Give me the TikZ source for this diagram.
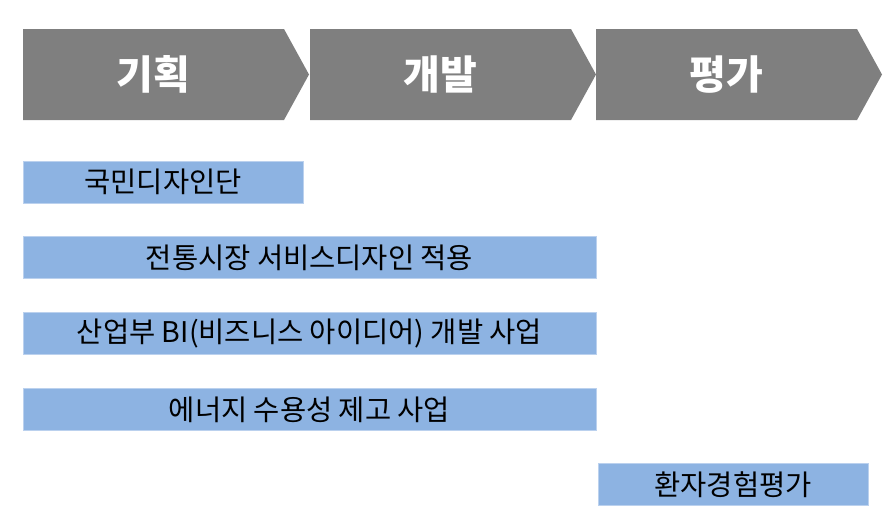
\documentclass[tikz,border=0pt]{standalone}
\usepackage{fontspec}
\newfontfamily\kr{Noto Sans CJK KR}
\usetikzlibrary{positioning}
\usetikzlibrary{calc}

\definecolor{stagegray}{HTML}{7F7F7F}
\definecolor{taskblue}{HTML}{8DB3E2}

\begin{document}
\begin{tikzpicture}[x=1pt, y=-1pt,
    stage/.style={fill=stagegray},
    stagelabel/.style={text=white, inner sep=0pt, font=\kr\bfseries\fontsize{40}{46}\selectfont},
    task/.style={fill=taskblue, draw=taskblue!60!white, line width=0.5pt, inner sep=0pt,
                 minimum height=42pt, font=\kr\fontsize{28.5}{32}\selectfont}]

      \useasboundingbox (0,0) rectangle (896,525);

      % Body width and tip depth of the stage arrows
      \def\bodyw{261}
      \def\tipw{25}

      % Stage arrows along the top
      \foreach \i/\x/\name in {1/23/기획, 2/310/개발, 3/596/평가} {
        \fill[stage] (\x,29) -- ++(\bodyw,0) -- ++(\tipw,45.5) -- ++(-\tipw,45.5) -- ++(-\bodyw,0) -- cycle;
        \node[stagelabel] (s\i) at (\x+\bodyw/2, 74.5) {\name};
      }

      % Projects under the stages
      \node[task, minimum width=280pt] (t1) at (163,182) {국민디자인단};
      \node[task, minimum width=573pt] (t2) at (309.5,257.5) {전통시장 서비스디자인 적용};
      \node[task, minimum width=573pt] (t3) at (309.5,333.5) {산업부 BI(비즈니스 아이디어) 개발 사업};
      \node[task, minimum width=573pt] (t4) at (309.5,409.5) {에너지 수용성 제고 사업};
      \node[task, minimum width=270pt] (t5) at (733,484.5) {환자경험평가};

    \end{tikzpicture}
\end{document}
